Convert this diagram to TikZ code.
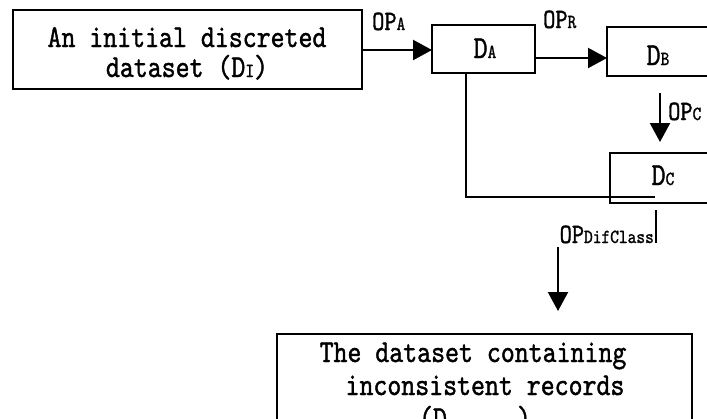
\documentclass[tikz,border=0pt]{standalone}
\usepackage{fontspec}
\usetikzlibrary{arrows.meta}
\newfontfamily\cfont{lmmono10-regular.otf}[FakeStretch=0.83,FakeBold=1.2]
\newcommand{\sbs}[1]{{\fontsize{20}{20}\selectfont #1}}
\tikzset{
  box/.style={draw, line width=1.4pt, inner sep=0pt},
  conn/.style={line width=2.2pt},
  arr/.style={line width=2.2pt, -{Triangle[length=19pt,width=20pt]}},
  big/.style={font=\fontsize{32}{33}\selectfont\cfont, inner sep=0pt, anchor=base},
  lbl/.style={font=\fontsize{28}{28}\selectfont\cfont, inner sep=0pt, anchor=base west},
}
\begin{document}
\begin{tikzpicture}[x=1pt,y=-1pt]
\useasboundingbox (0,0) rectangle (707,418);
\clip (0,0) rectangle (707,418);
% boxes
\node[box, minimum width=349pt, minimum height=79pt] (DI) at (187.5,49.5) {};
\node[big] (tDI1) at (187,47) {An initial discreted};
\node[big] (tDI2) at (187,77) {dataset (D\sbs{I})};
\node[box, minimum width=103pt, minimum height=48pt] (DA) at (483.5,49) {};
\node[big] (tDA) at (485,58) {D\sbs{A}};
\node[box, minimum width=140pt, minimum height=49pt] (DB) at (677,51.5) {};
\node[big] (tDB) at (658,65) {D\sbs{B}};
\node[box, minimum width=140pt, minimum height=50pt] (DC) at (680,178) {};
\node[big] (tDC) at (663,185) {D\sbs{C}};
\node[box, minimum width=415pt, minimum height=140pt] (DO) at (484.5,404) {};
\node[big] (tDO1) at (473,362) {The dataset containing};
\node[big] (tDO2) at (485,395) {inconsistent records};
\node[big] (tDO3) at (475,428) {(D\hspace{70pt})};
% coordinates
\coordinate (a1) at (362,50);
\coordinate (a2) at (432,50);
\coordinate (r1) at (535,58);
\coordinate (r2) at (607,58);
\coordinate (c1) at (660,93);
\coordinate (c2) at (660,142);
\coordinate (l1) at (466,73);
\coordinate (l2) at (466,197);
\coordinate (l3) at (655,197);
\coordinate (t1) at (656,210);
\coordinate (t2) at (656,243);
\coordinate (d1) at (558,247);
\coordinate (d2) at (558,311);
% connectors
\draw[arr] (a1) -- (a2);
\draw[arr] (r1) -- (r2);
\draw[arr] (c1) -- (c2);
\draw[conn] (l1) -- (l2) -- (l3);
\draw[conn] (t1) -- (t2);
\draw[arr] (d1) -- (d2);
% labels
\node[lbl] (opa) at (372,30) {OP\sbs{A}};
\node[lbl] (opr) at (543,28) {OP\sbs{R}};
\node[lbl] (opc) at (668,120) {OP\sbs{C}};
\node[lbl, anchor=base east] (opd) at (654,243) {OP\sbs{DifClass}};
\end{tikzpicture}
\end{document}
